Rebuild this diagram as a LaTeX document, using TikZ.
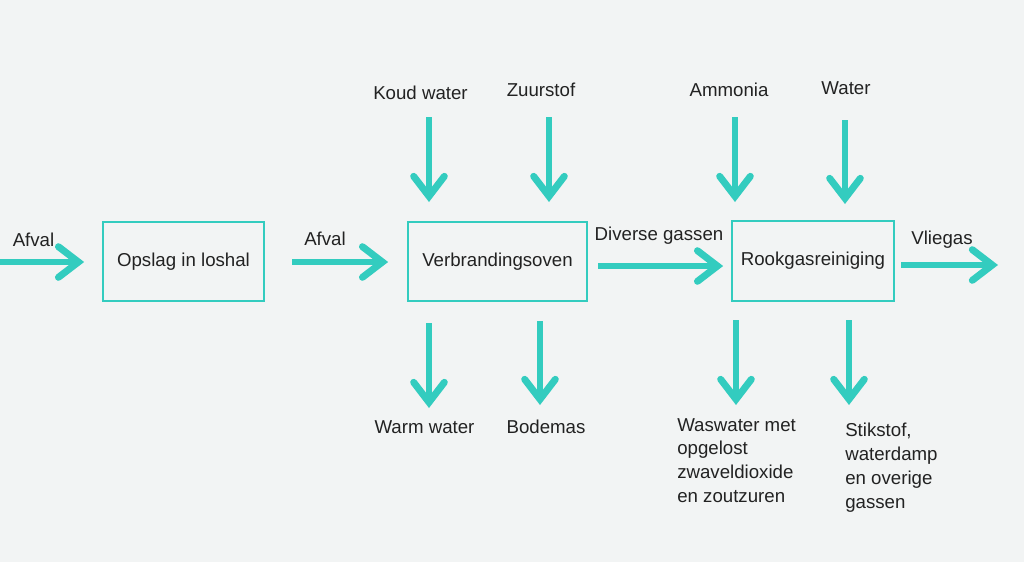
\documentclass[tikz,border=0pt]{standalone}
\usepackage{fontspec}
\setmainfont{Liberation Sans}
\usetikzlibrary{arrows.meta}
\definecolor{teal1}{HTML}{33CCBF}
\definecolor{bgc}{HTML}{F2F4F4}
\definecolor{txt}{HTML}{222222}
\begin{document}
\begin{tikzpicture}[x=0.75pt,y=-0.75pt,
  box/.style={draw=teal1,line width=1.3pt,minimum width=#1*0.75pt,minimum height=59.5pt,inner sep=0pt,font=\fontsize{14}{17}\selectfont,text=txt},
  lbl/.style={font=\fontsize{14}{17.8}\selectfont,text=txt,inner sep=0pt},
  flow/.style={draw=teal1,line width=5.2pt,-{Straight Barb[length=15pt,width=23pt,line cap=round,line join=miter]}}]
\fill[bgc] (0,0) rectangle (1024,562);
\useasboundingbox (0,0) rectangle (1024,562);
% boxes
\node[box=161] (opslag) at (183.5,261.5) {Opslag in loshal};
\node[box=179] (oven) at (497.5,261.5) {Verbrandingsoven};
\node[box=162] (rook) at (813,261) {Rookgasreiniging};
% horizontal arrows
\coordinate (in0) at (0,262);
\draw[flow] (in0) -- ([xshift=-18*0.75pt]opslag.west|-in0);
\coordinate (a1) at (292,262);
\draw[flow] (a1) -- ([xshift=-19*0.75pt]oven.west|-a1);
\coordinate (a2) at (598,266);
\draw[flow] (a2) -- ([xshift=-8*0.75pt]rook.west|-a2);
\coordinate (a3) at (901,265);
\coordinate (a3e) at (998,265);
\draw[flow] (a3) -- (a3e);
% vertical arrows in
\coordinate (k1) at (429,117); \draw[flow] (k1) -- (429,202);
\coordinate (z1) at (549,117); \draw[flow] (z1) -- (549,202);
\coordinate (am1) at (735,117); \draw[flow] (am1) -- (735,202);
\coordinate (w1) at (845,120); \draw[flow] (w1) -- (845,204);
% vertical arrows out
\coordinate (ww1) at (429,323); \draw[flow] (ww1) -- (429,408);
\coordinate (bo1) at (540,321); \draw[flow] (bo1) -- (540,405);
\coordinate (was1) at (736,320); \draw[flow] (was1) -- (736,405);
\coordinate (st1) at (849,320); \draw[flow] (st1) -- (849,405);
% labels
\node[lbl] (lafval1) at (33.5,240) {Afval};
\node[lbl] (lafval2) at (325,239) {Afval};
\node[lbl] (ldiv) at (659,236) {Diverse gassen};
\node[lbl] (lvlieg) at (942,240) {Vliegas};
\node[lbl] (lkoud) at (420.5,93) {Koud water};
\node[lbl] (lzuur) at (541,90) {Zuurstof};
\node[lbl] (lamm) at (729,90) {Ammonia};
\node[lbl] (lwat) at (846,88) {Water};
\node[lbl] (lwarm) at (424.5,427) {Warm water};
\node[lbl] (lbod) at (546,427) {Bodemas};
\node[lbl,align=left,anchor=north west] (lwas) at (677,418) {Waswater met\\opgelost\\zwaveldioxide\\en zoutzuren};
\node[lbl,align=left,anchor=north west] (lstik) at (845,423) {Stikstof,\\waterdamp\\en overige\\gassen};
\end{tikzpicture}
\end{document}
